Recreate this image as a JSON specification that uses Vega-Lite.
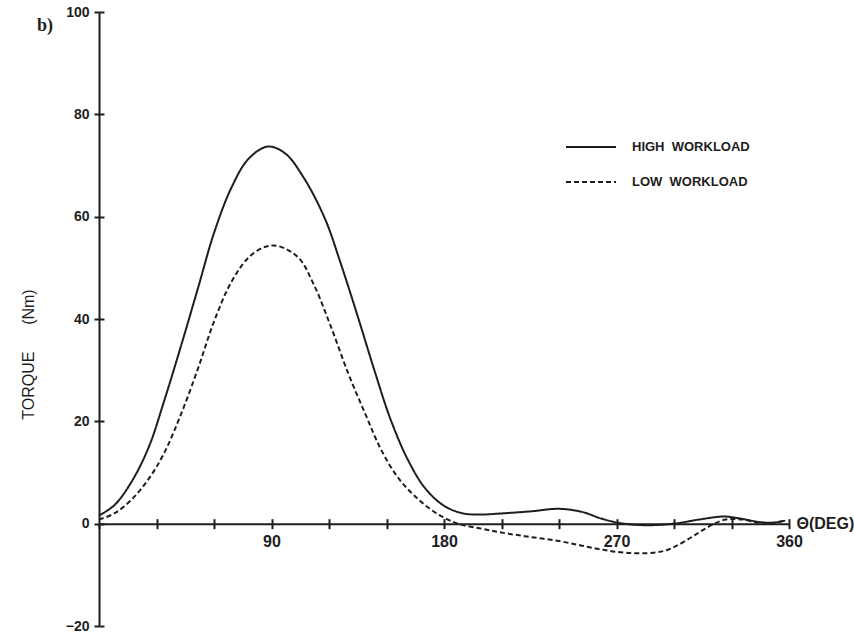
{
  "$schema": "https://vega.github.io/schema/vega-lite/v6.json",
  "width": 690,
  "height": 614,
  "autosize": {"type": "none"},
  "padding": {"left": 99, "top": 12, "right": 65, "bottom": 6},
  "background": "white",
  "title": {"text": "b)", "anchor": "start", "frame": "group", "orient": "top", "dx": -62, "dy": 44, "offset": 0, "baseline": "alphabetic", "font": "Liberation Serif", "fontSize": 18, "fontWeight": "bold", "color": "#1e1e1e"},
  "config": {"view": {"stroke": null}, "axis": {"grid": false}},
  "data": {"values": [
    {"theta": 0, "torque": 1.6, "load": "HIGH\u00a0\u00a0WORKLOAD"},
    {"theta": 8, "torque": 3.6, "load": "HIGH\u00a0\u00a0WORKLOAD"},
    {"theta": 17, "torque": 8.2, "load": "HIGH\u00a0\u00a0WORKLOAD"},
    {"theta": 26, "torque": 15, "load": "HIGH\u00a0\u00a0WORKLOAD"},
    {"theta": 34, "torque": 24, "load": "HIGH\u00a0\u00a0WORKLOAD"},
    {"theta": 43, "torque": 35, "load": "HIGH\u00a0\u00a0WORKLOAD"},
    {"theta": 52, "torque": 46.5, "load": "HIGH\u00a0\u00a0WORKLOAD"},
    {"theta": 60, "torque": 56.8, "load": "HIGH\u00a0\u00a0WORKLOAD"},
    {"theta": 69, "torque": 65.6, "load": "HIGH\u00a0\u00a0WORKLOAD"},
    {"theta": 78, "torque": 71.3, "load": "HIGH\u00a0\u00a0WORKLOAD"},
    {"theta": 88, "torque": 73.7, "load": "HIGH\u00a0\u00a0WORKLOAD"},
    {"theta": 97, "torque": 72.4, "load": "HIGH\u00a0\u00a0WORKLOAD"},
    {"theta": 107, "torque": 67.5, "load": "HIGH\u00a0\u00a0WORKLOAD"},
    {"theta": 118, "torque": 59.5, "load": "HIGH\u00a0\u00a0WORKLOAD"},
    {"theta": 126, "torque": 51, "load": "HIGH\u00a0\u00a0WORKLOAD"},
    {"theta": 135, "torque": 40.5, "load": "HIGH\u00a0\u00a0WORKLOAD"},
    {"theta": 144, "torque": 29.6, "load": "HIGH\u00a0\u00a0WORKLOAD"},
    {"theta": 152, "torque": 20.5, "load": "HIGH\u00a0\u00a0WORKLOAD"},
    {"theta": 161, "torque": 12.6, "load": "HIGH\u00a0\u00a0WORKLOAD"},
    {"theta": 170, "torque": 7.0, "load": "HIGH\u00a0\u00a0WORKLOAD"},
    {"theta": 180, "torque": 3.5, "load": "HIGH\u00a0\u00a0WORKLOAD"},
    {"theta": 190, "torque": 2.0, "load": "HIGH\u00a0\u00a0WORKLOAD"},
    {"theta": 200, "torque": 1.8, "load": "HIGH\u00a0\u00a0WORKLOAD"},
    {"theta": 210, "torque": 2.0, "load": "HIGH\u00a0\u00a0WORKLOAD"},
    {"theta": 225, "torque": 2.4, "load": "HIGH\u00a0\u00a0WORKLOAD"},
    {"theta": 240, "torque": 2.9, "load": "HIGH\u00a0\u00a0WORKLOAD"},
    {"theta": 252, "torque": 2.3, "load": "HIGH\u00a0\u00a0WORKLOAD"},
    {"theta": 262, "torque": 1.0, "load": "HIGH\u00a0\u00a0WORKLOAD"},
    {"theta": 272, "torque": 0.1, "load": "HIGH\u00a0\u00a0WORKLOAD"},
    {"theta": 285, "torque": -0.3, "load": "HIGH\u00a0\u00a0WORKLOAD"},
    {"theta": 300, "torque": 0.0, "load": "HIGH\u00a0\u00a0WORKLOAD"},
    {"theta": 313, "torque": 0.8, "load": "HIGH\u00a0\u00a0WORKLOAD"},
    {"theta": 326, "torque": 1.4, "load": "HIGH\u00a0\u00a0WORKLOAD"},
    {"theta": 333, "torque": 1.1, "load": "HIGH\u00a0\u00a0WORKLOAD"},
    {"theta": 345, "torque": 0.3, "load": "HIGH\u00a0\u00a0WORKLOAD"},
    {"theta": 352, "torque": 0.2, "load": "HIGH\u00a0\u00a0WORKLOAD"},
    {"theta": 358, "torque": 0.6, "load": "HIGH\u00a0\u00a0WORKLOAD"},
    {"theta": 0, "torque": 0.8, "load": "LOW\u00a0\u00a0WORKLOAD"},
    {"theta": 8, "torque": 2.0, "load": "LOW\u00a0\u00a0WORKLOAD"},
    {"theta": 17, "torque": 4.7, "load": "LOW\u00a0\u00a0WORKLOAD"},
    {"theta": 26, "torque": 8.8, "load": "LOW\u00a0\u00a0WORKLOAD"},
    {"theta": 34, "torque": 13.8, "load": "LOW\u00a0\u00a0WORKLOAD"},
    {"theta": 43, "torque": 21.6, "load": "LOW\u00a0\u00a0WORKLOAD"},
    {"theta": 52, "torque": 30.7, "load": "LOW\u00a0\u00a0WORKLOAD"},
    {"theta": 60, "torque": 39.5, "load": "LOW\u00a0\u00a0WORKLOAD"},
    {"theta": 69, "torque": 47.2, "load": "LOW\u00a0\u00a0WORKLOAD"},
    {"theta": 78, "torque": 52.0, "load": "LOW\u00a0\u00a0WORKLOAD"},
    {"theta": 86, "torque": 54.0, "load": "LOW\u00a0\u00a0WORKLOAD"},
    {"theta": 93, "torque": 54.3, "load": "LOW\u00a0\u00a0WORKLOAD"},
    {"theta": 104, "torque": 52.0, "load": "LOW\u00a0\u00a0WORKLOAD"},
    {"theta": 112, "torque": 46.8, "load": "LOW\u00a0\u00a0WORKLOAD"},
    {"theta": 121, "torque": 38.5, "load": "LOW\u00a0\u00a0WORKLOAD"},
    {"theta": 130, "torque": 29.4, "load": "LOW\u00a0\u00a0WORKLOAD"},
    {"theta": 139, "torque": 21.4, "load": "LOW\u00a0\u00a0WORKLOAD"},
    {"theta": 147, "torque": 14.6, "load": "LOW\u00a0\u00a0WORKLOAD"},
    {"theta": 156, "torque": 9.0, "load": "LOW\u00a0\u00a0WORKLOAD"},
    {"theta": 165, "torque": 5.3, "load": "LOW\u00a0\u00a0WORKLOAD"},
    {"theta": 173, "torque": 2.8, "load": "LOW\u00a0\u00a0WORKLOAD"},
    {"theta": 180, "torque": 1.2, "load": "LOW\u00a0\u00a0WORKLOAD"},
    {"theta": 188, "torque": -0.1, "load": "LOW\u00a0\u00a0WORKLOAD"},
    {"theta": 200, "torque": -1.0, "load": "LOW\u00a0\u00a0WORKLOAD"},
    {"theta": 211, "torque": -1.8, "load": "LOW\u00a0\u00a0WORKLOAD"},
    {"theta": 225, "torque": -2.6, "load": "LOW\u00a0\u00a0WORKLOAD"},
    {"theta": 240, "torque": -3.4, "load": "LOW\u00a0\u00a0WORKLOAD"},
    {"theta": 252, "torque": -4.3, "load": "LOW\u00a0\u00a0WORKLOAD"},
    {"theta": 263, "torque": -5.1, "load": "LOW\u00a0\u00a0WORKLOAD"},
    {"theta": 275, "torque": -5.7, "load": "LOW\u00a0\u00a0WORKLOAD"},
    {"theta": 289, "torque": -5.7, "load": "LOW\u00a0\u00a0WORKLOAD"},
    {"theta": 296, "torque": -5.2, "load": "LOW\u00a0\u00a0WORKLOAD"},
    {"theta": 301, "torque": -4.4, "load": "LOW\u00a0\u00a0WORKLOAD"},
    {"theta": 308, "torque": -2.9, "load": "LOW\u00a0\u00a0WORKLOAD"},
    {"theta": 314, "torque": -1.5, "load": "LOW\u00a0\u00a0WORKLOAD"},
    {"theta": 320, "torque": -0.2, "load": "LOW\u00a0\u00a0WORKLOAD"},
    {"theta": 327, "torque": 0.8, "load": "LOW\u00a0\u00a0WORKLOAD"},
    {"theta": 336, "torque": 0.8, "load": "LOW\u00a0\u00a0WORKLOAD"},
    {"theta": 345, "torque": 0.1, "load": "LOW\u00a0\u00a0WORKLOAD"},
    {"theta": 352, "torque": 0.2, "load": "LOW\u00a0\u00a0WORKLOAD"},
    {"theta": 358, "torque": 0.6, "load": "LOW\u00a0\u00a0WORKLOAD"}
  ]},
  "layer": [
    {
      "mark": {"type": "line", "interpolate": "catmull-rom", "strokeWidth": 2, "color": "#1e1e1e"},
      "encoding": {
        "x": {"field": "theta", "type": "quantitative", "scale": {"domain": [0, 360], "nice": false},
          "axis": {"orient": "bottom", "offset": -102.33, "values": [0, 30, 60, 90, 120, 150, 180, 210, 240, 270, 300, 330, 360],
            "labelExpr": "datum.value % 90 === 0 && datum.value > 0 ? datum.label : ''",
            "labelFlush": false, "labelOverlap": false, "tickSize": 5, "tickWidth": 2, "tickColor": "#1e1e1e",
            "domainWidth": 2, "domainColor": "#1e1e1e", "labelFont": "Liberation Sans", "labelFontSize": 16, "labelFontWeight": "bold",
            "labelColor": "#1e1e1e", "labelPadding": 5, "labelBaseline": "top",
            "title": "\u0398(DEG)", "titleX": 697, "titleY": 0, "titleAlign": "left", "titleBaseline": "middle", "titleAngle": 0,
            "titleFont": "Liberation Sans", "titleFontSize": 16, "titleFontWeight": "bold", "titleColor": "#1e1e1e"}},
        "y": {"field": "torque", "type": "quantitative", "scale": {"domain": [-20, 100], "nice": false},
          "axis": {"orient": "left", "values": [-20, 0, 20, 40, 60, 80, 100], "tickSize": 5, "tickWidth": 2, "tickColor": "#1e1e1e",
            "domainWidth": 2, "domainColor": "#1e1e1e", "labelFont": "Liberation Sans", "labelFontSize": 14, "labelFontWeight": "bold",
            "labelColor": "#1e1e1e", "labelPadding": 5, "labelOverlap": false, "labelFlush": false,
            "title": "TORQUE\u00a0\u00a0\u00a0\u00a0\u00a0\u00a0(Nm)", "titleX": -71, "titleY": 342, "titleAngle": 270, "titleAlign": "center", "titleBaseline": "middle",
            "titleFont": "Liberation Sans", "titleFontSize": 16, "titleFontWeight": "normal", "titleColor": "#1e1e1e"}},
        "strokeDash": {"field": "load", "type": "nominal",
          "scale": {"domain": ["HIGH\u00a0\u00a0WORKLOAD", "LOW\u00a0\u00a0WORKLOAD"], "range": [[1, 0], [5, 3]]},
          "legend": {"orient": "none", "legendX": 466, "legendY": 125, "title": null, "symbolType": "stroke", "symbolSize": 2500,
            "symbolStrokeWidth": 2, "symbolStrokeColor": "#1e1e1e", "clipHeight": 20, "rowPadding": 15, "labelOffset": 15,
            "labelFont": "Liberation Sans", "labelFontSize": 13, "labelFontWeight": "bold", "labelColor": "#1e1e1e"}}
      }
    },
    {
      "mark": {"type": "line", "opacity": 0},
      "encoding": {
        "x": {"field": "theta", "type": "quantitative", "scale": {"domain": [0, 360], "nice": false},
          "axis": {"orient": "top", "offset": -511.67, "values": [30, 60, 90, 120, 150, 180, 210, 240, 270, 300, 330, 360],
            "labels": false, "domain": false, "tickSize": 5, "tickWidth": 2, "tickColor": "#1e1e1e", "title": null}},
        "y": {"field": "torque", "type": "quantitative", "scale": {"domain": [-20, 100], "nice": false},
          "axis": {"orient": "right", "offset": -690, "values": [-20, 0, 20, 40, 60, 80, 100],
            "labels": false, "domain": false, "tickSize": 5, "tickWidth": 2, "tickColor": "#1e1e1e", "title": null}},
        "detail": {"field": "load", "type": "nominal"}
      }
    }
  ],
  "resolve": {"axis": {"x": "independent", "y": "independent"}}
}
